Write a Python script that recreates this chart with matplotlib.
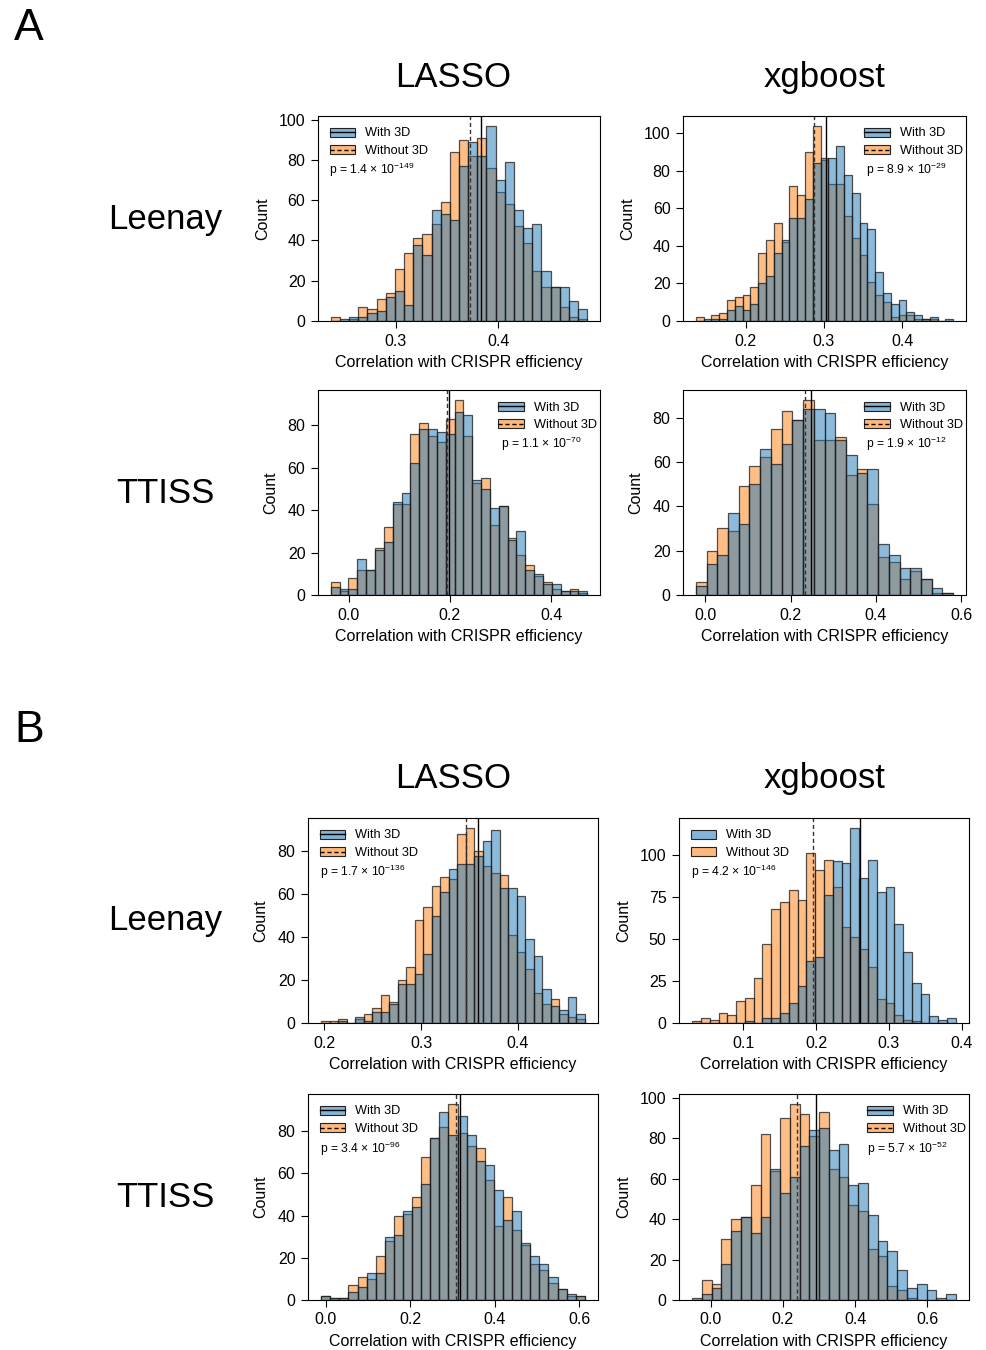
import numpy as np
import matplotlib
matplotlib.use('Agg')
import matplotlib.pyplot as plt
from matplotlib.patches import Patch
from matplotlib.lines import Line2D

plt.rcParams['font.family'] = ['Liberation Sans', 'DejaVu Sans']
plt.rcParams['mathtext.fontset'] = 'custom'
plt.rcParams['mathtext.rm'] = 'Liberation Sans'
plt.rcParams['mathtext.default'] = 'regular'

# ---- data (counts per bin) ----
# A / Leenay / LASSO
a_leenay_lasso_range = (0.2365, 0.487)
a_leenay_lasso_with = [0, 1, 2, 2, 4, 5, 12, 15, 8, 38, 33, 55, 53, 50, 77, 89, 82, 97, 70, 79, 55, 46, 48, 25, 17, 17, 10, 6]
a_leenay_lasso_without = [2, 0, 1, 7, 6, 11, 14, 26, 34, 41, 43, 48, 59, 84, 90, 82, 91, 76, 64, 58, 47, 39, 25, 17, 17, 7, 2, 1]
a_leenay_lasso_means = (0.3831, 0.3723)
a_leenay_lasso_p = ('1.4', '-149')

# A / Leenay / xgboost
a_leenay_xgb_range = (0.1359, 0.4654)
a_leenay_xgb_with = [0, 1, 1, 1, 6, 8, 6, 9, 20, 24, 36, 43, 55, 55, 65, 84, 87, 87, 93, 78, 68, 52, 49, 26, 15, 9, 11, 5, 3, 1, 2, 0, 1]
a_leenay_xgb_without = [2, 0, 3, 4, 11, 13, 14, 18, 36, 43, 52, 42, 72, 67, 90, 104, 86, 73, 73, 56, 44, 35, 21, 14, 10, 2, 3, 3, 1, 1, 1, 0, 0]
a_leenay_xgb_means = (0.3026, 0.2868)
a_leenay_xgb_p = ('8.9', '-29')

# A / TTISS / LASSO
a_ttiss_lasso_range = (-0.0349, 0.4707)
a_ttiss_lasso_with = [4, 3, 3, 17, 12, 21, 25, 44, 48, 62, 78, 78, 77, 76, 86, 85, 54, 50, 41, 42, 26, 30, 12, 10, 5, 5, 2, 2, 2]
a_ttiss_lasso_without = [6, 2, 8, 12, 12, 22, 32, 43, 43, 76, 81, 75, 72, 83, 92, 75, 53, 55, 33, 42, 27, 19, 14, 9, 6, 3, 2, 3, 1]
a_ttiss_lasso_means = (0.199, 0.1945)
a_ttiss_lasso_p = ('1.1', '-70')

# A / TTISS / xgboost
a_ttiss_xgb_range = (-0.0219, 0.5805)
a_ttiss_xgb_with = [4, 14, 18, 37, 32, 50, 66, 59, 68, 79, 84, 84, 82, 70, 63, 55, 57, 23, 18, 12, 12, 7, 3, 1]
a_ttiss_xgb_without = [6, 20, 30, 29, 49, 58, 62, 75, 83, 79, 88, 70, 70, 71, 54, 57, 41, 17, 15, 7, 11, 7, 1, 1]
a_ttiss_xgb_means = (0.2477, 0.2336)
a_ttiss_xgb_p = ('1.9', '-12')

# B / Leenay / LASSO
b_leenay_lasso_range = (0.1966, 0.4693)
b_leenay_lasso_with = [0, 0, 1, 0, 3, 1, 5, 5, 9, 18, 18, 23, 32, 50, 61, 72, 74, 74, 78, 85, 90, 63, 63, 59, 39, 31, 16, 8, 6, 12, 4]
b_leenay_lasso_without = [1, 1, 2, 0, 2, 4, 7, 13, 10, 20, 26, 48, 54, 64, 68, 67, 88, 91, 80, 73, 70, 69, 41, 33, 25, 14, 9, 11, 4, 3, 2]
b_leenay_lasso_means = (0.3586, 0.3459)
b_leenay_lasso_p = ('1.7', '-136')

# B / Leenay / xgboost
b_leenay_xgb_range = (0.0297, 0.392)
b_leenay_xgb_with = [0, 0, 0, 0, 0, 0, 1, 0, 3, 3, 6, 12, 22, 37, 39, 76, 96, 95, 116, 86, 97, 78, 81, 59, 42, 24, 17, 4, 2, 3]
b_leenay_xgb_without = [1, 3, 2, 6, 5, 13, 15, 27, 47, 68, 72, 79, 73, 101, 91, 97, 81, 57, 51, 44, 33, 14, 12, 5, 2, 1, 0, 0, 0, 0]
b_leenay_xgb_means = (0.2604, 0.1961)
b_leenay_xgb_p = ('4.2', '-146')

# B / TTISS / LASSO
b_ttiss_lasso_range = (-0.0103, 0.6134)
b_ttiss_lasso_with = [2, 1, 1, 4, 6, 13, 13, 30, 31, 42, 44, 55, 77, 89, 78, 87, 78, 66, 64, 52, 38, 42, 27, 21, 17, 11, 5, 3, 2]
b_ttiss_lasso_without = [2, 1, 1, 7, 11, 10, 21, 28, 40, 41, 49, 68, 77, 82, 93, 79, 73, 72, 57, 35, 49, 33, 26, 17, 14, 8, 5, 2, 2]
b_ttiss_lasso_means = (0.3182, 0.3095)
b_ttiss_lasso_p = ('3.4', '-96')

# B / TTISS / xgboost
b_ttiss_xgb_range = (-0.0509, 0.6787)
b_ttiss_xgb_with = [1, 3, 6, 18, 34, 41, 33, 41, 65, 53, 61, 76, 84, 85, 74, 77, 57, 58, 42, 29, 24, 15, 6, 8, 5, 1, 3]
b_ttiss_xgb_without = [0, 10, 8, 30, 40, 41, 57, 82, 64, 90, 97, 92, 81, 93, 65, 61, 47, 44, 25, 22, 7, 5, 1, 0, 0, 0, 0]
b_ttiss_xgb_means = (0.2921, 0.2403)
b_ttiss_xgb_p = ('5.7', '-52')

# tick labels
xticks = {
    'a_ll': [0.3, 0.4], 'a_lx': [0.2, 0.3, 0.4],
    'a_tl': [0.0, 0.2, 0.4], 'a_tx': [0.0, 0.2, 0.4, 0.6],
    'b_ll': [0.2, 0.3, 0.4], 'b_lx': [0.1, 0.2, 0.3, 0.4],
    'b_tl': [0.0, 0.2, 0.4, 0.6], 'b_tx': [0.0, 0.2, 0.4, 0.6],
}
yticks = {
    'a_ll': [0, 20, 40, 60, 80, 100], 'a_lx': [0, 20, 40, 60, 80, 100],
    'a_tl': [0, 20, 40, 60, 80], 'a_tx': [0, 20, 40, 60, 80],
    'b_ll': [0, 20, 40, 60, 80], 'b_lx': [0, 25, 50, 75, 100],
    'b_tl': [0, 20, 40, 60, 80], 'b_tx': [0, 20, 40, 60, 80, 100],
}

BLUE_A = (0.122, 0.467, 0.706, 0.5)
ORANGE_A = (1.0, 0.498, 0.055, 0.5)
EDGE = (0.1, 0.1, 0.1, 0.75)

W, H = 986, 1350
fig = plt.figure(figsize=(W / 100, H / 100), dpi=100)


def px_axes(l, r, t, b):
    return fig.add_axes([l / W, 1 - b / H, (r - l) / W, (b - t) / H])


def panel(ax, rng, c_with, c_without, means, p, key, legend_loc, line_legend=True):
    n = len(c_with)
    edges = np.linspace(rng[0], rng[1], n + 1)
    centers = (edges[:-1] + edges[1:]) / 2
    ax.hist(centers, bins=edges, weights=c_without, facecolor=ORANGE_A,
            edgecolor=EDGE, linewidth=0.9)
    ax.hist(centers, bins=edges, weights=c_with, facecolor=BLUE_A,
            edgecolor=EDGE, linewidth=0.9)
    ax.axvline(means[0], color='k', lw=1.0)
    ax.axvline(means[1], color='#333333', lw=1.0, ls=(0, (3, 2)))

    ax.set_xticks(xticks[key])
    ax.set_xticklabels([f'{v:.1f}' for v in xticks[key]])
    ax.set_yticks(yticks[key])
    ax.tick_params(labelsize=11.5, length=5, width=0.8, pad=4)
    for s in ax.spines.values():
        s.set_linewidth(0.8)
    ax.set_xlabel('Correlation with CRISPR efficiency', fontsize=11.5, labelpad=5)
    ax.set_ylabel('Count', fontsize=11.5, labelpad=6.5)

    p_with = Patch(facecolor=(0.122, 0.467, 0.706, 0.55), edgecolor='#222222', lw=0.8)
    p_without = Patch(facecolor=(1.0, 0.498, 0.055, 0.55), edgecolor='#222222', lw=0.8)
    if line_legend:
        h = [(p_with, Line2D([], [], color='k', lw=1.0)),
             (p_without, Line2D([], [], color='k', lw=1.0, ls=(0, (3, 2))))]
    else:
        h = [p_with, p_without]
    if 'left' in legend_loc:
        anchor = (0.0, 1.0)
        tx = 0.04
    else:
        anchor = (1.03, 1.0)
        tx = 0.648
    ax.legend(h, ['With 3D', 'Without 3D'], loc=legend_loc, bbox_to_anchor=anchor,
              frameon=False, fontsize=9.2, handlelength=2.0, labelspacing=0.45,
              handletextpad=0.8)
    ax.text(tx, 0.735, f'p = {p[0]} × 10$^{{{p[1]}}}$', transform=ax.transAxes,
            fontsize=8.7, va='center', ha='left')


panel(px_axes(318, 600, 116, 321), a_leenay_lasso_range, a_leenay_lasso_with,
      a_leenay_lasso_without, a_leenay_lasso_means, a_leenay_lasso_p, 'a_ll', 'upper left')
panel(px_axes(683, 966, 116, 321), a_leenay_xgb_range, a_leenay_xgb_with,
      a_leenay_xgb_without, a_leenay_xgb_means, a_leenay_xgb_p, 'a_lx', 'upper right')
panel(px_axes(318, 600, 390, 595), a_ttiss_lasso_range, a_ttiss_lasso_with,
      a_ttiss_lasso_without, a_ttiss_lasso_means, a_ttiss_lasso_p, 'a_tl', 'upper right')
panel(px_axes(683, 966, 390, 595), a_ttiss_xgb_range, a_ttiss_xgb_with,
      a_ttiss_xgb_without, a_ttiss_xgb_means, a_ttiss_xgb_p, 'a_tx', 'upper right')
panel(px_axes(308, 598, 818, 1023), b_leenay_lasso_range, b_leenay_lasso_with,
      b_leenay_lasso_without, b_leenay_lasso_means, b_leenay_lasso_p, 'b_ll', 'upper left')
panel(px_axes(679, 969, 818, 1023), b_leenay_xgb_range, b_leenay_xgb_with,
      b_leenay_xgb_without, b_leenay_xgb_means, b_leenay_xgb_p, 'b_lx', 'upper left',
      line_legend=False)
panel(px_axes(308, 598, 1094, 1300), b_ttiss_lasso_range, b_ttiss_lasso_with,
      b_ttiss_lasso_without, b_ttiss_lasso_means, b_ttiss_lasso_p, 'b_tl', 'upper left')
panel(px_axes(679, 969, 1094, 1300), b_ttiss_xgb_range, b_ttiss_xgb_with,
      b_ttiss_xgb_without, b_ttiss_xgb_means, b_ttiss_xgb_p, 'b_tx', 'upper right')


def ftext(x, y, s, size, ha='center'):
    fig.text(x / W, 1 - y / H, s, fontsize=size, ha=ha, va='baseline')


ftext(14, 40, 'A', 32, ha='left')
ftext(14, 742, 'B', 32, ha='left')
for yb in (87, 788):
    ftext(453, yb, 'LASSO', 25)
    ftext(825, yb, 'xgboost', 25)
for y_leenay, y_ttiss in ((229, 503), (930, 1207)):
    ftext(165, y_leenay, 'Leenay', 25)
    ftext(165, y_ttiss, 'TTISS', 25)

fig.savefig('out.png', dpi=100)
